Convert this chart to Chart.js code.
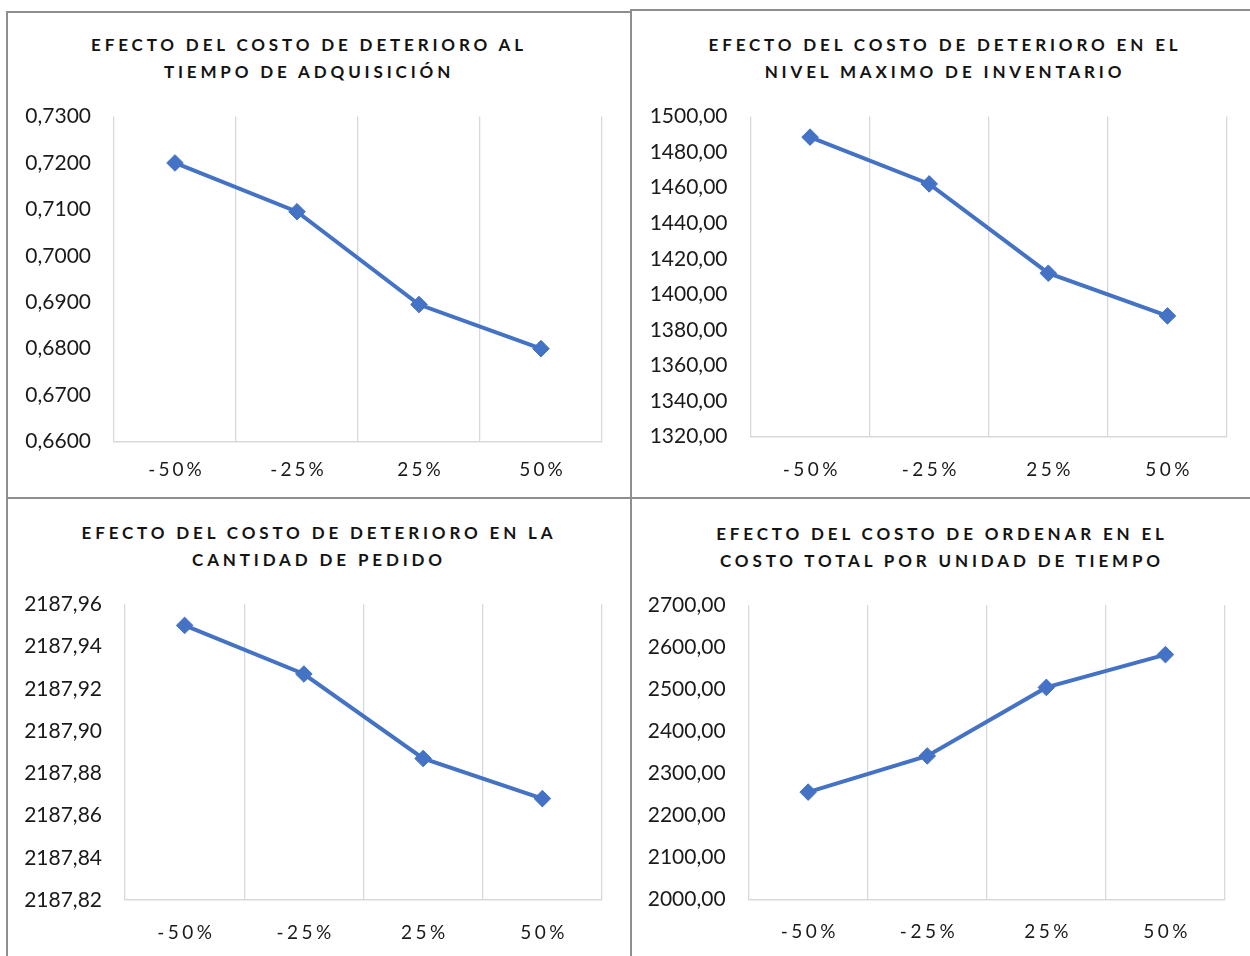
<!DOCTYPE html>
<html lang="es">
<head>
<meta charset="utf-8">
<title>Efecto del costo de deterioro</title>
<script src="https://cdn.jsdelivr.net/npm/chart.js@4.4.1/dist/chart.umd.min.js"></script>
<style>
  html, body { margin: 0; padding: 0; background: #fff; }
  body { width: 1250px; height: 956px; position: relative; overflow: hidden; font-family: Lato, "Open Sans", sans-serif; }
  .frame { position: absolute; box-sizing: border-box; border: 2px solid #8e8e8e; }
  .title { position: absolute; transform: translateX(-50%); text-align: center; white-space: nowrap;
           font-family: Lato, sans-serif; font-weight: 700; font-size: 17px; letter-spacing: 3.85px;
           color: #131313; line-height: 27px; }
  canvas { position: absolute; }
</style>
</head>
<body>
<div class="frame" style="left:6px;top:11px;width:626px;height:488px;"></div>
<div class="frame" style="left:630px;top:9px;width:640px;height:490px;"></div>
<div class="frame" style="left:6px;top:497px;width:626px;height:480px;"></div>
<div class="frame" style="left:630px;top:497px;width:640px;height:480px;"></div>

<div class="title" style="left:309px;top:31px;">EFECTO DEL COSTO DE DETERIORO AL<br>TIEMPO DE ADQUISICIÓN</div>
<div class="title" style="left:945px;top:31px;">EFECTO DEL COSTO DE DETERIORO EN EL<br>NIVEL MAXIMO DE INVENTARIO</div>
<div class="title" style="left:319px;top:519px;">EFECTO DEL COSTO DE DETERIORO EN LA<br>CANTIDAD DE PEDIDO</div>
<div class="title" style="left:942px;top:520px;">EFECTO DEL COSTO DE ORDENAR EN EL<br>COSTO TOTAL POR UNIDAD DE TIEMPO</div>

<canvas id="c1" width="622" height="400" style="left:8px;top:95px;"></canvas>
<canvas id="c2" width="615" height="400" style="left:633px;top:95px;"></canvas>
<canvas id="c3" width="622" height="371" style="left:8px;top:585px;"></canvas>
<canvas id="c4" width="615" height="371" style="left:633px;top:585px;"></canvas>

<script>
// Variación porcentual del parámetro analizado
const categorias = ['-50%', '-25%', '25%', '50%'];

// Tiempo de adquisición
const tiempoAdquisicion = [0.7200, 0.7095, 0.6895, 0.6800];
// Nivel máximo de inventario
const nivelMaximo = [1488.4, 1462.1, 1411.9, 1387.9];
// Cantidad de pedido
const cantidadPedido = [2187.950, 2187.927, 2187.887, 2187.868];
// Costo total por unidad de tiempo
const costoTotal = [2255, 2341, 2504, 2582];

// Rangos de los ejes verticales: [mínimo, máximo, paso, decimales]
const ejeTiempo = [0.66, 0.73, 0.01, 4];
const ejeNivel = [1320, 1500, 20, 2];
const ejeCantidad = [2187.82, 2187.96, 0.02, 2];
const ejeCosto = [2000, 2700, 100, 2];

const AZUL = '#4472C4';
const GRIS = '#d9d9d9';
const TEXTO = '#1a1a1a';

// Espaciado entre letras para las etiquetas del eje de categorías
const etiquetasEspaciadas = {
  id: 'etiquetasEspaciadas',
  beforeDraw(chart, args, opts) {
    const sc = chart.scales.x;
    if (!sc || sc.__espaciado) return;
    const original = sc.drawLabels.bind(sc);
    const s = opts.spacing || 0;
    sc.drawLabels = function (area) {
      const ctx = this.ctx;
      ctx.save();
      ctx.letterSpacing = s + 'px';
      ctx.translate(s / 2, 0);
      original(area);
      ctx.restore();
    };
    sc.__espaciado = true;
  }
};

function grafico(id, valores, eje, area, xPad, espaciado) {
  const canvas = document.getElementById(id);
  const cx = parseFloat(canvas.style.left), cy = parseFloat(canvas.style.top);
  const cw = canvas.width, ch = canvas.height;
  const [min, max, paso, dec] = eje;
  return new Chart(canvas, {
    type: 'line',
    data: {
      labels: categorias,
      datasets: [{
        data: valores,
        borderColor: AZUL,
        backgroundColor: AZUL,
        borderWidth: 4,
        pointStyle: 'rectRot',
        pointRadius: 8.3,
        pointBorderWidth: 1,
        pointBackgroundColor: AZUL,
        pointBorderColor: AZUL,
        tension: 0,
        fill: false
      }]
    },
    options: {
      responsive: false,
      animation: false,
      devicePixelRatio: 1,
      layout: {
        padding: { top: area.top - cy, right: cx + cw - area.right, left: 0, bottom: 0 }
      },
      plugins: {
        legend: { display: false },
        title: { display: false },
        tooltip: { enabled: false },
        etiquetasEspaciadas: { spacing: espaciado }
      },
      scales: {
        x: {
          type: 'category',
          offset: true,
          grid: { display: true, offset: true, color: GRIS, lineWidth: 1.3, drawTicks: false },
          border: { display: true, color: GRIS, width: 1.5 },
          ticks: { color: TEXTO, padding: xPad, font: { family: 'Lato', size: 19 } },
          afterFit(s) { s.height = cy + ch - area.bottom; }
        },
        y: {
          min: min,
          max: max,
          grid: { display: false, drawTicks: false },
          border: { display: false },
          ticks: {
            stepSize: paso,
            color: TEXTO,
            padding: 23,
            font: { family: 'Lato', size: 21 },
            callback: (v) => Number(v).toFixed(dec).replace('.', ',')
          },
          afterFit(s) {
            // el margen superior lo fija layout.padding
            s.width = area.left - cx;
            s.paddingTop = 0;
            s.paddingBottom = 0;
          }
        }
      }
    },
    plugins: [etiquetasEspaciadas]
  });
}

grafico('c1', tiempoAdquisicion, ejeTiempo, { left: 114, right: 602, top: 116.5, bottom: 441.5 }, 17, 3);
grafico('c2', nivelMaximo, ejeNivel, { left: 750.5, right: 1227, top: 116.5, bottom: 436.7 }, 22, 3.5);
grafico('c3', cantidadPedido, ejeCantidad, { left: 125, right: 602, top: 604.3, bottom: 900 }, 21.5, 3.5);
grafico('c4', costoTotal, ejeCosto, { left: 748.6, right: 1225, top: 605, bottom: 899.3 }, 21.5, 3.5);
</script>
</body>
</html>
